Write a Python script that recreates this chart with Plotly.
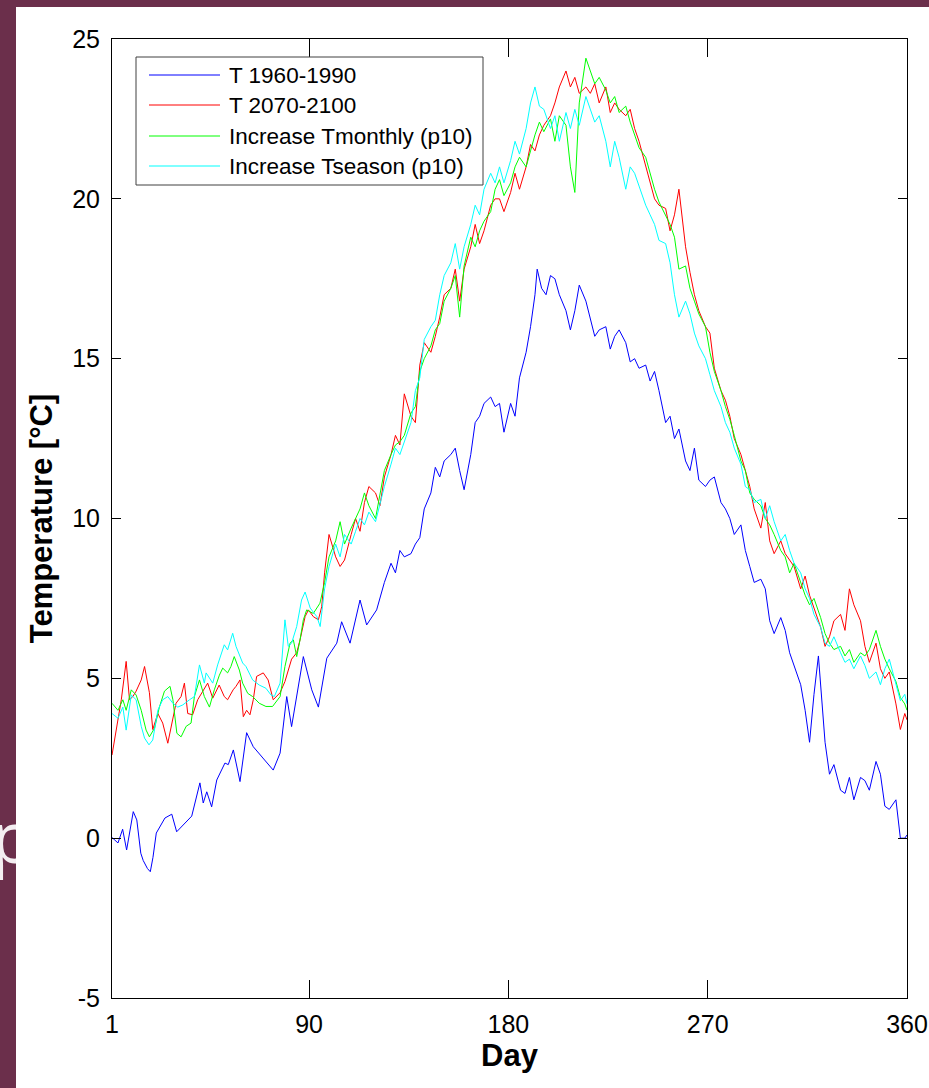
import plotly.graph_objects as go

W, H = 929, 1088

# ---------------- data (day of year, temperature in °C) ----------------
series_names = ["T 1960-1990", "T 2070-2100", "Increase Tmonthly (p10)", "Increase Tseason (p10)"]
series_colors = ["#0000ff", "#ff0000", "#00ff00", "#00ffff"]

x_ticks = [1, 90, 180, 270, 360]
y_ticks = [-5, 0, 5, 10, 15, 20, 25]
y_tick_text = ["-5", "0", "5", "10", "15", "20", "25"]

blue_days = [1, 3.7, 5.8, 7.6, 10.6, 12.2, 14, 15.1, 17, 18.3, 19.5, 21, 24.9, 28, 30.2, 32.5, 34.7, 37, 40.7, 42.2,
             43.8, 46, 48.3, 52, 53.5, 55.8, 58.8, 61.8, 64.8, 70.9, 73.8, 76.9, 79.9, 82.1, 87.4, 91.2, 94.2, 98, 102.5, 104.7,
             108.5, 113, 116, 120.5,
             124, 127, 129, 131, 133, 136, 138, 140, 142, 145, 147, 149, 151, 154, 156, 158, 160, 163, 165, 167,
             169, 172, 174, 176, 178, 181, 183, 185, 188, 190, 192, 193, 195, 197, 199, 201, 203, 206, 208, 210,
             212, 215, 217, 219, 221, 224, 226, 228, 230, 233, 235, 237, 239, 242, 244, 246, 248, 251, 253, 255,
             257, 260, 262, 264, 266, 269, 271, 273, 276, 278, 280, 282, 285, 287, 289, 291, 294, 296, 298, 300,
             303, 305, 307, 309, 312, 314, 316, 318, 320, 323, 325, 327, 330, 332, 334, 336, 339, 341, 343, 346,
             348, 350, 352, 355, 357, 359, 360]
blue_vals = [0.02, -0.15, 0.28, -0.37, 0.83, 0.57, -0.47, -0.7, -0.95, -1.05, -0.6, 0.16, 0.63, 0.75, 0.2, 0.37, 0.53, 0.69, 1.73, 1.1,
             1.45, 0.98, 1.82, 2.35, 2.3, 2.76, 1.77, 3.3, 2.86, 2.35, 2.13, 2.66, 4.43, 3.49, 5.68, 4.64, 4.1, 5.63, 6.1, 6.77,
             6.1, 7.45, 6.67, 7.14,
             8.0, 8.6, 8.3, 9.0, 8.8, 8.9, 9.2, 9.4, 10.3, 10.8, 11.6, 11.3, 11.8, 12.0, 12.2, 11.5, 10.9, 12.0, 13.0, 13.2,
             13.6, 13.8, 13.5, 13.6, 12.7, 13.6, 13.2, 14.4, 15.2, 16.0, 17.0, 17.8, 17.2, 17.0, 17.6, 17.5, 17.0, 16.5, 15.9, 16.5,
             17.3, 16.8, 16.2, 15.7, 15.9, 16.0, 15.3, 15.7, 15.9, 15.5, 14.9, 15.0, 14.7, 14.8, 14.3, 14.6, 14.0, 13.0, 13.2, 12.5,
             12.8, 11.8, 11.5, 12.2, 11.2, 11.0, 11.2, 11.3, 10.5, 10.3, 10.0, 9.5, 9.8, 9.0, 8.5, 8.0, 8.1, 7.8, 6.8, 6.4,
             6.9, 6.5, 5.8, 5.4, 4.8, 4.0, 3.0, 4.5, 5.7, 3.0, 2.0, 2.3, 1.5, 1.4, 1.9, 1.2, 1.9, 1.8, 1.5, 2.4,
             2.0, 1.0, 0.9, 1.2, 0.0, 0.0, 0.1]

grid_days = [97, 99, 102, 104, 106, 109, 111, 113, 115, 117, 120, 122, 124, 127, 129, 131, 133, 136, 138, 140,
             142, 145, 147, 149, 151, 154, 156, 158, 160, 163, 165, 167, 169, 172, 174, 176, 178, 181, 183, 185,
             188, 190, 192, 194, 196, 199, 201, 203, 206, 208, 210, 212, 215, 217, 219, 221, 224, 226, 228, 230,
             233, 235, 237, 239, 242, 244, 246, 248, 251, 253, 255, 257, 260, 262, 264, 266, 269, 271, 273, 276,
             278, 280, 282, 285, 287, 289, 291, 294, 296, 298, 300, 303, 305, 307, 309, 312, 314, 316, 318, 321,
             323, 325, 327, 330, 332, 334, 336, 339, 341, 343, 346, 348, 350, 352, 355, 357, 359, 360]

red_days_a = [1, 3.7, 5.2, 7.4, 8.9, 10.4, 11.9, 14.2, 15.7, 17.9, 19.4, 21.7, 23.9, 26.2, 27.7, 29.9, 32.2, 33.7, 35.2, 37.4,
              39.7, 41.9, 44.2, 46.5, 49.4, 51.7, 53.2, 55.7, 57, 58.8, 60.3, 61.8, 63.3, 64.8, 66.3, 69.3, 71.5, 73.8, 76.9, 79.1,
              82.1, 84.4, 85.9, 88.2, 89.7, 91.9, 94.2, 95.7]
red_vals_a = [2.6, 3.8, 4.33, 5.53, 4.33, 4.43, 4.6, 4.95, 5.37, 4.55, 3.4, 3.9, 3.6, 2.97, 3.5, 4.22, 4.43, 4.85, 3.9, 3.86,
              4.33, 4.6, 4.85, 4.38, 4.79, 4.43, 4.33, 4.64, 4.75, 4.95, 3.8, 4.0, 3.86, 4.33, 5.06, 5.17, 4.95, 4.33, 4.55, 4.9,
              5.6, 5.8, 6.2, 6.93, 7.14, 6.93, 6.83, 7.24]
red_vals_b = [8.3, 9.5, 8.8, 8.5, 8.7, 9.5, 10.0, 9.6, 10.5, 11.0, 10.8, 10.4, 11.3, 12.0, 12.6, 12.3, 13.9, 13.2, 13.0, 14.8,
              15.5, 15.2, 15.7, 16.3, 17.0, 17.2, 17.8, 16.8, 17.8, 18.5, 19.2, 18.6, 19.0, 19.8, 20.0, 20.0, 19.6, 20.2, 20.8, 20.3,
              21.0, 21.7, 21.5, 22.0, 22.3, 22.6, 23.0, 23.5, 24.0, 23.5, 23.8, 23.3, 23.5, 23.3, 23.6, 23.0, 23.5, 22.7, 23.0, 22.8,
              22.6, 22.8, 22.2, 21.8, 21.0, 20.5, 20.0, 19.8, 19.7, 19.0, 19.5, 20.3, 18.5, 17.7, 17.0, 16.5, 16.0, 15.8, 14.7, 14.0,
              13.7, 13.2, 12.5, 12.0, 11.5, 11.0, 10.3, 9.7, 10.5, 9.3, 8.9, 9.3, 8.9, 8.7, 8.5, 7.8, 8.2, 7.6, 7.2, 6.6,
              6.0, 6.3, 6.8, 7.0, 6.5, 7.8, 7.3, 6.8, 6.0, 5.5, 6.1, 5.3, 5.0, 5.2, 4.2, 3.4, 3.9, 3.7]

green_days_a = [1, 3.7, 5.9, 7.4, 9.7, 11.9, 14.2, 16.4, 17.9, 20.2, 22.4, 24.7, 27.2, 28.5, 30.3, 32.2, 34.5, 36.7, 38.2, 40.5,
                42.7, 45, 47.2, 49.5, 51, 53.2, 54.7, 56.2, 58.5, 60, 62.3, 64.5, 67.5, 70.5, 73.5, 76.9, 79.1, 81.4, 82.9, 84.4,
                85.9, 87.4, 88.9, 91.9, 94.9]
green_vals_a = [4.22, 4.0, 4.33, 4.0, 4.64, 4.48, 4.0, 3.38, 3.17, 3.44, 4.1, 4.6, 4.75, 4.33, 3.28, 3.17, 3.5, 3.6, 4.43, 4.95,
                4.43, 4.1, 4.64, 5.1, 5.32, 5.17, 5.37, 5.68, 5.26, 4.85, 4.53, 4.43, 4.22, 4.12, 4.12, 4.43, 5.37, 6.1, 6.2, 5.68,
                6.2, 6.83, 7.14, 7.03, 7.35]
green_vals_b = [8.0, 8.8, 9.3, 9.9, 9.2, 9.7, 10.0, 10.3, 10.8, 10.4, 10.0, 10.8, 11.5, 12.0, 12.3, 12.4, 12.6, 13.3, 13.5, 14.6,
                15.0, 15.4, 15.9, 16.1, 16.8, 17.2, 17.6, 16.3, 17.9, 18.8, 18.5, 19.0, 19.3, 19.6, 20.3, 20.6, 20.1, 20.5, 21.0, 21.3,
                21.0, 21.5, 22.0, 22.4, 22.1, 22.5, 21.8, 22.6, 22.3, 21.0, 20.2, 23.0, 24.4, 24.0, 23.6, 23.8, 23.4, 23.0, 23.2, 22.7,
                22.9, 22.4, 22.0, 21.6, 21.3, 20.8, 20.3, 19.9, 19.5, 19.2, 18.8, 17.8, 17.9, 17.2, 16.8, 16.4, 16.0, 15.2, 14.6, 14.0,
                13.5, 13.1, 12.6, 11.8, 11.5, 10.8, 10.6, 10.4, 10.0, 9.8, 9.5, 9.0, 8.8, 8.3, 8.6, 8.0, 7.6, 7.3, 7.5, 6.9,
                6.4, 6.1, 5.9, 6.0, 5.7, 5.9, 5.5, 5.8, 5.7, 5.9, 6.5, 6.0, 5.6, 5.3, 4.9, 4.4, 4.2, 4.0]

cyan_days_a = [1, 3.7, 5.9, 7.4, 9.7, 11.9, 14.2, 15.7, 17.7, 19.4, 21.7, 23.9, 26.2, 28.5, 30.7, 33, 36, 38.2, 40.5, 42.7,
               43.5, 46.5, 48.7, 51.7, 53.2, 55.5, 57, 58.5, 60, 61.5, 64.5, 67.5, 70.5, 72.8, 74.3, 76.9, 79.1, 80.6, 82.1, 84.4,
               86.6, 88.2, 90.5, 93.5, 95]
cyan_vals_a = [3.9, 3.75, 4.1, 3.38, 4.48, 4.33, 3.5, 3.13, 2.92, 3.07, 4.0, 4.33, 4.43, 4.22, 4.1, 4.17, 4.33, 4.43, 5.42, 4.85,
               5.17, 4.85, 5.42, 6.05, 5.89, 6.41, 6.0, 5.74, 5.48, 5.37, 4.95, 4.79, 4.69, 4.48, 4.43, 4.85, 6.83, 6.0, 6.1, 6.62,
               7.45, 7.7, 7.2, 6.93, 6.62]
cyan_vals_b = [7.8, 8.5, 9.2, 8.8, 9.5, 9.2, 9.6, 10.0, 9.8, 10.2, 9.9, 10.5, 11.0, 11.7, 12.2, 12.0, 12.4, 13.0, 14.0, 14.4,
               15.6, 16.0, 16.2, 17.0, 17.6, 18.0, 18.6, 17.8, 18.5, 19.2, 19.8, 19.5, 20.3, 20.8, 20.5, 21.0, 20.5, 21.2, 21.8, 21.4,
               22.2, 23.0, 23.5, 22.9, 22.8, 22.2, 22.6, 21.8, 22.7, 22.2, 22.8, 22.3, 23.2, 22.8, 22.4, 22.6, 21.8, 21.0, 21.8, 21.3,
               20.3, 21.0, 20.8, 20.4, 19.8, 19.5, 19.2, 18.7, 18.6, 18.0, 17.0, 16.3, 16.8, 16.4, 15.8, 15.4, 15.0, 14.5, 14.0, 13.5,
               13.0, 12.7, 12.2, 11.7, 11.0, 10.9, 10.5, 10.6, 10.0, 10.4, 9.9, 9.3, 9.5, 9.0, 8.6, 8.3, 7.8, 7.5, 7.0, 6.6,
               6.1, 6.0, 6.3, 5.8, 5.5, 5.6, 5.3, 5.7, 5.4, 5.0, 5.2, 4.8, 5.3, 5.6, 4.8, 4.3, 4.5, 4.2]

assert len(blue_days) == len(blue_vals)
assert len(red_days_a) == len(red_vals_a) and len(grid_days) == len(red_vals_b)
assert len(green_days_a) == len(green_vals_a) and len(grid_days) == len(green_vals_b)
assert len(cyan_days_a) == len(cyan_vals_a) and len(grid_days) == len(cyan_vals_b)

series_x = [blue_days, red_days_a + grid_days, green_days_a + grid_days, cyan_days_a + grid_days]
series_y = [blue_vals, red_vals_a + red_vals_b, green_vals_a + green_vals_b, cyan_vals_a + cyan_vals_b]

# ---------------- layout helpers (pixels -> paper) ----------------
PL, PR, PT, PB = 112, 907, 39, 998
MAROON = "#6b2f4b"
FONT = "Liberation Sans, Arial, sans-serif"


def fx(p):
    return p / W


def fy(p):
    return 1 - p / H


fig = go.Figure()

for name, xs, ys, col in zip(series_names, series_x, series_y, series_colors):
    fig.add_trace(go.Scatter(x=xs, y=ys, mode="lines", name=name,
                             line=dict(color=col, width=1), showlegend=False))

# clipped slide text peeking out at the left edge
fig.add_trace(go.Scatter(x=[-9], y=[845], mode="text", text=["p"], textposition="middle right",
                         textfont=dict(size=72, color="#f4eef1", family="Open Sans"),
                         xaxis="x2", yaxis="y2", cliponaxis=True, showlegend=False, hoverinfo="skip"))

axis_common = dict(showline=True, linecolor="black", linewidth=1, mirror="ticks", ticks="inside",
                   tickcolor="black", tickwidth=1, showgrid=False, zeroline=False,
                   tickfont=dict(family=FONT, size=25, color="black"), automargin=False)

fig.update_layout(
    width=W, height=H,
    margin=dict(l=0, r=0, t=0, b=0),
    paper_bgcolor=MAROON,
    plot_bgcolor="rgba(0,0,0,0)",
    showlegend=False,
    xaxis=dict(domain=[fx(PL), fx(PR)], range=[1, 360], tickvals=x_ticks, ticklen=18,
               ticklabelstandoff=4, ticklabeloverflow="allow",
               title=dict(text="Day", font=dict(family=FONT, size=31, color="black", weight="bold"), standoff=6),
               **axis_common),
    yaxis=dict(domain=[fy(PB), fy(PT)], range=[-5, 25], tickvals=y_ticks, ticktext=y_tick_text, ticklen=9,
               ticklabelstandoff=6,
               title=dict(text="Temperature [°C]", font=dict(family=FONT, size=31, color="black", weight="bold"), standoff=10),
               **axis_common),
    xaxis2=dict(domain=[0, fx(16)], range=[0, 16], visible=False, anchor="y2", fixedrange=True),
    yaxis2=dict(domain=[0, 1], range=[H, 0], visible=False, anchor="x2", fixedrange=True),
)

shapes = [
    # white picture area over the maroon slide
    dict(type="rect", xref="paper", yref="paper", x0=fx(16), x1=1, y0=0, y1=fy(7),
         fillcolor="white", line=dict(width=0), layer="below"),
    # legend box
    dict(type="rect", xref="paper", yref="paper", x0=fx(136), x1=fx(483), y0=fy(185), y1=fy(57),
         fillcolor="white", line=dict(color="#404040", width=1), layer="above"),
]
annotations = []
row_y = [75, 105, 136, 166]
for name, col, ry in zip(series_names, series_colors, row_y):
    shapes.append(dict(type="line", xref="paper", yref="paper", x0=fx(149), x1=fx(220), y0=fy(ry), y1=fy(ry),
                       line=dict(color=col, width=1), layer="above"))
    annotations.append(dict(text=name, xref="paper", yref="paper", x=fx(227), y=fy(ry),
                            xanchor="left", yanchor="middle", showarrow=False,
                            font=dict(family=FONT, size=22.5, color="black")))

fig.update_layout(shapes=shapes, annotations=annotations)

fig.write_html("out.html",
               config={"displayModeBar": False},
               post_script="document.body.style.margin='0px';document.body.style.overflow='hidden';")
